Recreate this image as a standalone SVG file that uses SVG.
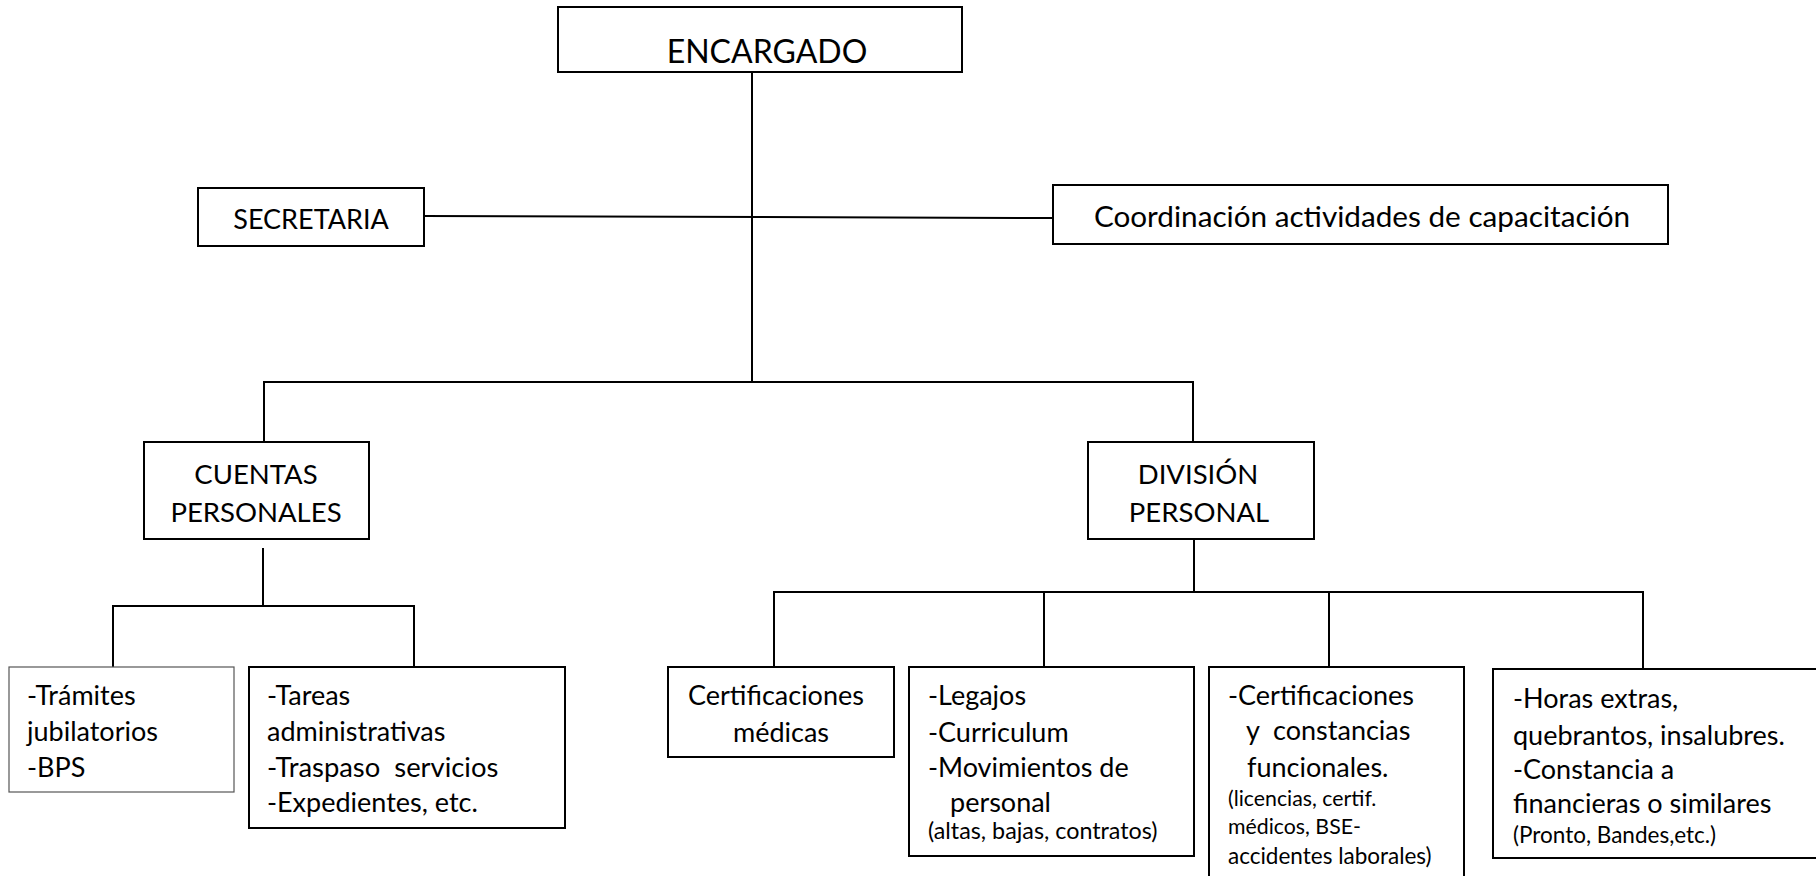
<svg xmlns="http://www.w3.org/2000/svg" width="1816" height="876" viewBox="0 0 1816 876">
<style>
.box{fill:#fff;stroke:#000;stroke-width:2}
.thin{fill:#fff;stroke:#555;stroke-width:1.2}
.ln{fill:none;stroke:#000;stroke-width:2}
text{font-family:Lato,"Liberation Sans",sans-serif;fill:#000}
.t{font-size:27px}
.h{font-size:27.5px;text-anchor:middle}
.s{font-size:22px}
</style>
<rect width="1816" height="876" fill="#fff"/>
<g id="connectors">
<path class="ln" d="M752 72V382"/>
<path class="ln" d="M424 216L1053 218"/>
<path class="ln" d="M264 441V382H1193V441"/>
<path class="ln" d="M263 548V606M113 667V606H414V667"/>
<path class="ln" d="M1194 539V592M774 667V592H1643V669M1044 592V667M1329 592V667"/>
</g>
<g id="encargado">
<rect class="box" x="558" y="7" width="404" height="65"/>
<text class="h" x="767" y="63" style="font-size:32px">ENCARGADO</text>
</g>
<g id="secretaria">
<rect class="box" x="198" y="188" width="226" height="58"/>
<text class="h" x="311" y="229" style="font-size:27px">SECRETARIA</text>
</g>
<g id="coordinacion">
<rect class="box" x="1053" y="185" width="615" height="59"/>
<text class="h" x="1362" y="227" style="font-size:29.7px">Coordinación actividades de capacitación</text>
</g>
<g id="cuentas">
<rect class="box" x="144" y="442" width="225" height="97"/>
<text class="h" x="256" y="484">CUENTAS</text>
<text class="h" x="256" y="522">PERSONALES</text>
</g>
<g id="division">
<rect class="box" x="1088" y="442" width="226" height="97"/>
<text class="h" x="1198" y="484">DIVISIÓN</text>
<text class="h" x="1199" y="522">PERSONAL</text>
</g>
<g id="tramites">
<rect class="thin" x="9" y="667" width="225" height="125"/>
<text class="t" x="27" y="705">-Trámites</text>
<text class="t" x="27" y="741">jubilatorios</text>
<text class="t" x="27" y="777">-BPS</text>
</g>
<g id="tareas">
<rect class="box" x="249" y="667" width="316" height="161"/>
<text class="t" x="267" y="705">-Tareas</text>
<text class="t" x="267" y="741">administrativas</text>
<text class="t" x="267" y="777" xml:space="preserve" style="font-size:27.4px">-Traspaso  servicios</text>
<text class="t" x="267" y="812">-Expedientes, etc.</text>
</g>
<g id="certificaciones-medicas">
<rect class="box" x="668" y="667" width="226" height="90"/>
<text class="t" x="688" y="705">Certificaciones</text>
<text class="t" x="733" y="742">médicas</text>
</g>
<g id="legajos">
<rect class="box" x="909" y="667" width="285" height="189"/>
<text class="t" x="928" y="705">-Legajos</text>
<text class="t" x="928" y="742">-Curriculum</text>
<text class="t" x="928" y="777">-Movimientos de</text>
<text class="t" x="950" y="812">personal</text>
<text class="s" x="928" y="839" style="font-size:23.3px">(altas, bajas, contratos)</text>
</g>
<g id="constancias">
<rect class="box" x="1209" y="667" width="255" height="215"/>
<text class="t" x="1228" y="705">-Certificaciones</text>
<text class="t" x="1246" y="740" xml:space="preserve">y  constancias</text>
<text class="t" x="1247" y="777">funcionales.</text>
<text class="s" x="1228" y="806" style="font-size:21.3px">(licencias, certif.</text>
<text class="s" x="1228" y="834" style="font-size:21.3px">médicos, BSE-</text>
<text class="s" x="1228" y="864" style="font-size:22.5px">accidentes laborales)</text>
</g>
<g id="horas">
<rect class="box" x="1493" y="669" width="330" height="189"/>
<text class="t" x="1513" y="708">-Horas extras,</text>
<text class="t" x="1513" y="745">quebrantos, insalubres.</text>
<text class="t" x="1513" y="779">-Constancia a</text>
<text class="t" x="1513" y="813">financieras o similares</text>
<text class="s" x="1513" y="843" style="font-size:22.5px">(Pronto, Bandes,etc.)</text>
</g>
</svg>
